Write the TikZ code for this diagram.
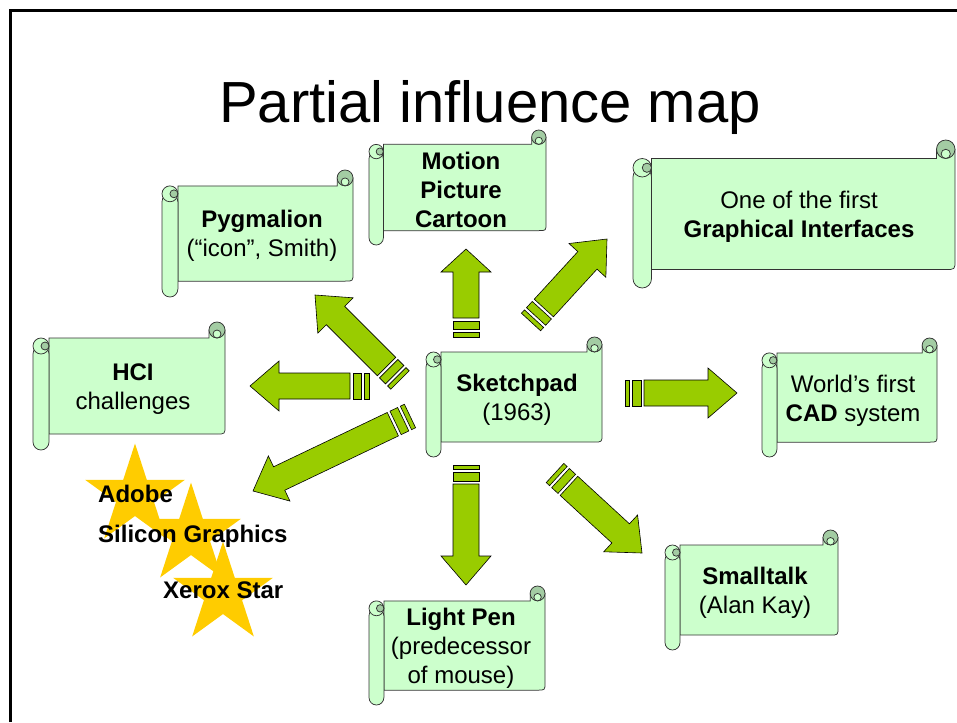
\documentclass[tikz,border=0pt]{standalone}
\usepackage{fontspec}
\setmainfont{Liberation Sans}
\usetikzlibrary{calc,shapes.geometric}
\definecolor{paper}{HTML}{CCFFCC}
\definecolor{paperdark}{HTML}{A3CCA3}
\definecolor{arrowgreen}{HTML}{99CC00}
\definecolor{stargold}{HTML}{FFCC00}
\tikzset{
	scrollpaper/.style={fill=paper, draw=black!80, line width=0.75pt},
	scrollcurl/.style={fill=paperdark, draw=black!80, line width=0.75pt},
	arrowbody/.style={fill=arrowgreen, draw=black, line width=0.6pt},
	scrolltext/.style={align=center, inner sep=0pt, font=\fontsize{24}{29}\selectfont},
	startext/.style={anchor=base west, inner sep=0pt, font=\bfseries\fontsize{24}{29}\selectfont},
	starshape/.style={star, star points=5, star point ratio=2.618, minimum size=105pt, inner sep=0pt, fill=stargold, draw=none},
}
% scroll from (x0,y0) to (x1,y1), pixel units
\newcommand{\scroll}[4]{%
	\pgfmathsetmacro{\rc}{0.125*min(#3-#1,#4-#2)}%
	\pgfmathsetmacro{\rh}{\rc/2}%
	\pgfmathsetmacro{\rq}{\rc/4}%
	\pgfmathsetmacro{\sxa}{#1+\rh}%
	\pgfmathsetmacro{\sxb}{#1+\rc}%
	\pgfmathsetmacro{\sxc}{#3-\rc}%
	\pgfmathsetmacro{\sxd}{#3-\rh}%
	\pgfmathsetmacro{\sya}{#2+\rh}%
	\pgfmathsetmacro{\syb}{#2+\rc}%
	\pgfmathsetmacro{\syl}{#2+1.5*\rc}%
	\pgfmathsetmacro{\syc}{#4-\rc}%
	\pgfmathsetmacro{\syq}{#4-\rc-\rh}%
	\filldraw[scrollpaper] (\sxb,\syb) -- (\sxc,\syb) -- (\sxc,\sya) -- (#3,\sya) -- (#3,\syq)
		.. controls (#3,\syc) .. (\sxd,\syc) -- (\sxb,\syc) -- cycle;
	\filldraw[scrollcurl] (\sxd,\sya) circle[radius=\rh pt];
	\filldraw[scrollpaper] (\sxd,\sya+\rq) circle[radius=\rq pt];
	\filldraw[scrollpaper, rounded corners=\rh pt] (#1,\syl) rectangle (\sxb,#4);
	\filldraw[scrollpaper] (\sxa,\syl) circle[radius=\rh pt];
	\filldraw[scrollcurl] (\sxa+\rq,\syl) circle[radius=\rq pt];
}
% striped block arrow from tail #2 to tip #3, head length #1
\newcommand{\blockarrow}[3][29pt]{%
	\filldraw[arrowbody] ($(#2)!0pt!(#3)!13pt!90:(#3)$) -- ($(#2)!4.5pt!(#3)!13pt!90:(#3)$)
		-- ($(#2)!4.5pt!(#3)!13pt!-90:(#3)$) -- ($(#2)!0pt!(#3)!13pt!-90:(#3)$) -- cycle;
	\filldraw[arrowbody] ($(#2)!7.5pt!(#3)!13pt!90:(#3)$) -- ($(#2)!16pt!(#3)!13pt!90:(#3)$)
		-- ($(#2)!16pt!(#3)!13pt!-90:(#3)$) -- ($(#2)!7.5pt!(#3)!13pt!-90:(#3)$) -- cycle;
	\filldraw[arrowbody] ($(#2)!19pt!(#3)!13pt!90:(#3)$) -- ($(#3)!#1!(#2)!13pt!-90:(#2)$)
		-- ($(#3)!#1!(#2)!25pt!-90:(#2)$) -- (#3) -- ($(#3)!#1!(#2)!25pt!90:(#2)$)
		-- ($(#3)!#1!(#2)!13pt!90:(#2)$) -- ($(#2)!19pt!(#3)!13pt!-90:(#3)$) -- cycle;
}

\begin{document}
\begin{tikzpicture}[x=1pt, y=-1pt]
	\useasboundingbox (0,0) rectangle (957,722);
	\draw[line width=3pt] (10.5,722) -- (10.5,10.5) -- (957,10.5);

	\node[anchor=base, inner sep=0pt, font=\fontsize{58}{70}\selectfont] (title) at (490,123) {Partial influence map};

	% arrows out of Sketchpad
	\coordinate (hciT) at (369,386);   \coordinate (hciH) at (250,386);
	\coordinate (pygT) at (400,380);   \coordinate (pygH) at (315,295);
	\coordinate (starT) at (410,416);  \coordinate (starH) at (253,491);
	\coordinate (movT) at (466,337);   \coordinate (movH) at (466,249);
	\coordinate (guiT) at (531,322);   \coordinate (guiH) at (607,239);
	\coordinate (cadT) at (625,393);   \coordinate (cadH) at (737,393);
	\coordinate (penT) at (466,465);   \coordinate (penH) at (466,585);
	\coordinate (talkT) at (555,473);  \coordinate (talkH) at (642,553);
	\blockarrow{hciT}{hciH}
	\blockarrow{pygT}{pygH}
	\blockarrow{starT}{starH}
	\blockarrow[23pt]{movT}{movH}
	\blockarrow{guiT}{guiH}
	\blockarrow{cadT}{cadH}
	\blockarrow{penT}{penH}
	\blockarrow{talkT}{talkH}

	% scrolls
	\scroll{162}{170}{353}{297}
	\node[scrolltext] (pygmalion) at (262,236) {\textbf{Pygmalion}\\(“icon”, Smith)};
	\scroll{369}{130}{546}{245}
	\node[scrolltext] (cartoon) at (461,190) {\textbf{Motion}\\\textbf{Picture}\\\textbf{Cartoon}};
	\scroll{633}{140}{955}{288}
	\node[scrolltext] (gui) at (799,217) {One of the first\\\textbf{Graphical Interfaces}};
	\scroll{33}{322}{225}{450}
	\node[scrolltext] (hci) at (133,389) {\textbf{HCI}\\challenges};
	\scroll{426}{337}{602}{457}
	\node[scrolltext] (sketchpad) at (517,400) {\textbf{Sketchpad}\\(1963)};
	\scroll{762}{338}{937}{457}
	\node[scrolltext] (cad) at (853,401) {World’s first\\\textbf{CAD} system};
	\scroll{665}{530}{838}{650}
	\node[scrolltext] (smalltalk) at (755,593) {\textbf{Smalltalk}\\(Alan Kay)};
	\scroll{369}{586}{545}{705}
	\node[scrolltext] (lightpen) at (461,648) {\textbf{Light Pen}\\(predecessor\\of mouse)};

	% stars
	\node[starshape] (adobestar) at (135,496) {};
	\node[starshape] (sgistar) at (191,535) {};
	\node[starshape] (xeroxstar) at (223,594) {};
	\node[startext] (adobe) at (98,502) {Adobe};
	\node[startext] (sgi) at (98,542) {Silicon Graphics};
	\node[startext] (xerox) at (163,598) {Xerox Star};
\end{tikzpicture}
\end{document}
